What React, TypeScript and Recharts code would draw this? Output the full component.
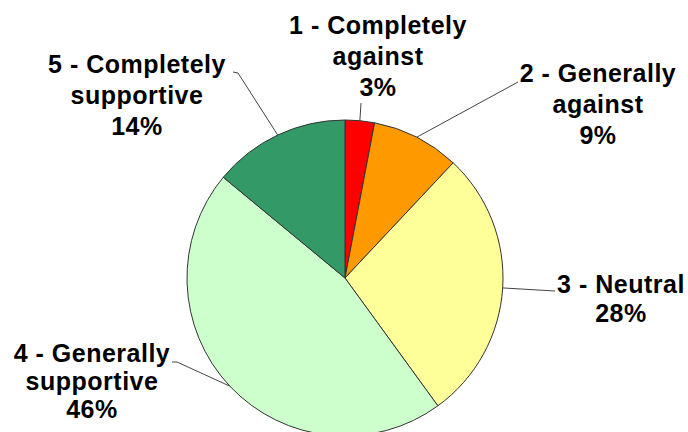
import React from "react";
import { PieChart, Pie, Cell } from "recharts";

const categories = [
    ["1 - Completely", "against"],
    ["2 - Generally", "against"],
    ["3 - Neutral"],
    ["4 - Generally", "supportive"],
    ["5 - Completely", "supportive"],
];
const shares = [3, 9, 28, 46, 14];
const colors = ["#FF0000", "#FF9900", "#FFFF99", "#CCFFCC", "#339966"];

// where each label sits, relative to the pie centre
const labelLayout = [
    { line: [[16, -175]], text: [33, -244], gap: 31 },
    { line: [[173, -196]], text: [253, -196], gap: 31 },
    { line: [[210, 13]], text: [276, 15], gap: 29 },
    { line: [[-168, 84], [-173, 84]], text: [-253, 84], gap: 28 },
    { line: [[-107, -205], [-112, -206]], text: [-208, -205], gap: 31 },
];

const RADIAN = Math.PI / 180;

const renderLabel = (props: any) => {
    const { cx, cy, midAngle, outerRadius, index, value } = props;
    const layout = labelLayout[index];
    const ex = cx + outerRadius * Math.cos(-midAngle * RADIAN);
    const ey = cy + outerRadius * Math.sin(-midAngle * RADIAN);
    const pts = [[ex, ey], ...layout.line.map((p) => [cx + p[0], cy + p[1]])];
    const lines = [...categories[index], `${value}%`];
    const tx = cx + layout.text[0];
    const ty = cy + layout.text[1];
    return (
        <g>
            <polyline
                points={pts.map((p) => p.join(",")).join(" ")}
                fill="none"
                stroke="#444"
                strokeWidth={1}
            />
            <text
                x={tx}
                y={ty}
                textAnchor="middle"
                fill="#000"
                fontSize={25}
                fontWeight="bold"
                letterSpacing={0.5}
                fontFamily="'Liberation Sans', Arial, sans-serif"
            >
                {lines.map((l, i) => (
                    <tspan key={i} x={tx} y={ty + i * layout.gap}>
                        {l}
                    </tspan>
                ))}
            </text>
        </g>
    );
};

export default function App() {
    const data = shares.map((v, i) => ({ name: categories[i].join(" "), value: v }));

    return (
        <div style={{ position: "absolute", left: 0, top: 0, background: "#fff" }}>
            <PieChart width={688} height={432}>
                <Pie
                    data={data}
                    dataKey="value"
                    cx={340}
                    cy={273}
                    outerRadius={158}
                    startAngle={90}
                    endAngle={-270}
                    stroke="#333"
                    strokeWidth={1}
                    labelLine={false}
                    label={renderLabel}
                    isAnimationActive={false}
                >
                    {data.map((d, i) => (
                        <Cell key={d.name} fill={colors[i]} />
                    ))}
                </Pie>
            </PieChart>
        </div>
    );
}
